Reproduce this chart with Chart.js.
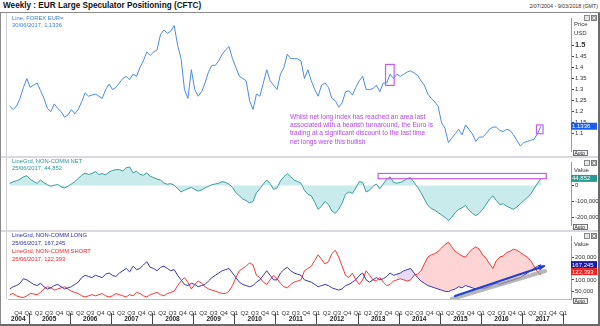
<!DOCTYPE html>
<html>
<head>
<meta charset="utf-8">
<script src="https://cdn.jsdelivr.net/npm/chart.js@4.4.0/dist/chart.umd.min.js"></script>
<style>
  body { margin: 0; background: #fff; font-family: "Liberation Sans", Arial, sans-serif; }
  #wrap { position: relative; width: 600px; height: 326px; overflow: hidden; background: #fff; }
  canvas { position: absolute; left: 0; }
  .t { position: absolute; white-space: nowrap; font-size: 5.8px; line-height: 7px; }
  .bar { position: absolute; }
</style>
</head>
<body>
<div id="wrap">
  <canvas id="c1" width="600" height="143" style="top:13px"></canvas>
  <canvas id="c2" width="600" height="72" style="top:158px"></canvas>
  <canvas id="c3" width="600" height="92" style="top:232px"></canvas>

  <div class="bar" style="left:0;top:12px;width:600px;height:1px;background:#8a8a8a"></div>
  <div class="bar" style="left:0;top:156px;width:600px;height:2px;background:#dcd7e0"></div>
  <div class="bar" style="left:0;top:230px;width:600px;height:2px;background:#dcd7e0"></div>
  <div class="bar" style="left:0;top:324px;width:600px;height:2px;background:#6a6a6a"></div>
  <div class="bar" style="left:0;top:13px;width:1px;height:311px;background:#8a8a8a"></div>
  <div class="bar" style="left:598px;top:13px;width:2px;height:311px;background:#6a6a6a"></div>
  <div class="bar" style="left:6px;top:13px;width:1px;height:286px;background:#d0d0d0"></div>

  <div class="t" style="left:3px;top:1px;font-size:8.2px;line-height:10px;font-weight:bold;color:#111">Weekly : EUR Large Speculator Positioning (CFTC)</div>
  <div class="t" style="right:2px;top:3px;font-size:5.3px;color:#333">2/07/2004 - 9/03/2018 (GMT)</div>

  <div class="t" style="left:12px;top:15px;color:#3d7fe0">Line, FOREX EUR=<br>30/06/2017, 1.1336</div>
  <div class="t" style="left:12px;top:158px;color:#2b9696;line-height:6.6px">LineGrd, NON-COMM NET<br>25/06/2017, 44,852</div>
  <div class="t" style="left:12px;top:232px;color:#2c2caa;line-height:7.8px">LineGrd, NON-COMM LONG<br>25/06/2017, 167,245</div>
  <div class="t" style="left:12px;top:248px;color:#f0282a;line-height:7.8px">LineGrd, NON-COMM SHORT<br>25/06/2017, 122,393</div>

  <div class="t" style="left:290px;top:112.5px;font-size:6.6px;line-height:8.35px;color:#b546ee">Whilst net long index has reached an area last<br>associated with a bearish turnaround, the Euro is<br>trading at a significant discount to the last time<br>net longs were this bullish</div>
</div>

<script>
// monthly readings, Jul 2004 .. Jun 2017
const startYear = 2004;
const startMonth = 7;

const price = [
  1.225, 1.21, 1.225, 1.26, 1.31, 1.35,
  1.31, 1.32, 1.33, 1.295, 1.26, 1.215, 1.20, 1.235, 1.215, 1.20, 1.175, 1.185,
  1.21, 1.19, 1.21, 1.245, 1.285, 1.27, 1.275, 1.28, 1.27, 1.26, 1.30, 1.325,
  1.30, 1.31, 1.33, 1.35, 1.36, 1.345, 1.37, 1.36, 1.40, 1.43, 1.47, 1.455,
  1.47, 1.48, 1.55, 1.57, 1.555, 1.565, 1.59, 1.50, 1.44, 1.30, 1.26, 1.39,
  1.30, 1.27, 1.29, 1.33, 1.38, 1.41, 1.41, 1.43, 1.46, 1.48, 1.495, 1.44,
  1.40, 1.36, 1.35, 1.34, 1.25, 1.21, 1.28, 1.27, 1.33, 1.39, 1.34, 1.32,
  1.30, 1.37, 1.40, 1.46, 1.44, 1.44, 1.44, 1.43, 1.35, 1.39, 1.34, 1.30,
  1.27, 1.32, 1.33, 1.31, 1.26, 1.25, 1.22, 1.24, 1.29, 1.295, 1.275, 1.31,
  1.34, 1.36, 1.30, 1.30, 1.305, 1.32, 1.29, 1.33, 1.33, 1.37, 1.35, 1.37,
  1.36, 1.37, 1.38, 1.385, 1.375, 1.365, 1.34, 1.32, 1.28, 1.26, 1.245, 1.225,
  1.15, 1.125, 1.06, 1.08, 1.10, 1.12, 1.095, 1.14, 1.12, 1.10, 1.065, 1.085,
  1.085, 1.10, 1.12, 1.13, 1.13, 1.115, 1.11, 1.12, 1.115, 1.095, 1.07, 1.045,
  1.06, 1.065, 1.07, 1.075, 1.10, 1.134
];

// thousands of contracts
const netK = [
  14, 24, 30, 40, 55, 62,
  40, 25, 14, 35, 18, 5, -5, 2, 7, -8, -15, -5,
  10, 25, 45, 65, 78, 70, 75, 88, 70, 75, 68, 85,
  95, 100, 100, 92, 112, 117, 80, 90, 70, 65, 80, 58,
  50, 40, 35, 15, 8, 12, 2, -20, -40, -30, -20, -12,
  -25, -35, -28, -15, -5, 5, 10, 15, 25, 20, 8, -12,
  -45, -65, -85, -95, -110, -100, -45, -20, 10, 35, 12, -25,
  -15, 30, 55, 75, 55, 35, 25, 15, -30, -55, -65, -105,
  -150, -130, -100, -120, -160, -175, -150, -110, -55, -40, -50, -15,
  25, 20, -40, -30, -5, 10, -20, 10, 40, 55, 20, 15,
  20, 30, 45, 50, 20, -10, -45, -85, -125, -145, -155, -170,
  -185, -200, -220, -200, -170, -150, -140, -125, -155, -175, -190, -175,
  -150, -120, -85, -65, -95, -120, -115, -130, -140, -150, -135, -115,
  -95, -75, -55, -20, 15, 45
];

const longK = [
  60, 70, 75, 85, 105, 100,
  90, 80, 75, 85, 70, 60, 65, 75, 80, 70, 60, 65,
  70, 80, 90, 110, 120, 115, 110, 120, 115, 110, 125, 130,
  120, 115, 130, 140, 150, 135, 160, 145, 150, 165, 180, 155,
  150, 140, 155, 160, 150, 140, 145, 120, 100, 80, 75, 85,
  80, 70, 75, 80, 95, 110, 120, 130, 140, 145, 150, 130,
  110, 90, 80, 75, 70, 75, 90, 100, 120, 140, 120, 100,
  100, 130, 145, 155, 140, 130, 125, 120, 100, 95, 90, 80,
  70, 75, 80, 75, 65, 60, 55, 60, 75, 80, 90, 100,
  120, 130, 100, 90, 100, 110, 100, 105, 115, 130, 120, 125,
  130, 140, 145, 150, 130, 110, 95, 85, 75, 70, 65, 60,
  55, 50, 48, 55, 60, 70, 65, 75, 70, 65, 60, 65,
  60, 65, 70, 80, 85, 80, 85, 90, 95, 100, 105, 110,
  120, 130, 140, 150, 160, 167
];

const shortK = [
  35, 40, 30, 25, 22, 30,
  40, 38, 35, 45, 60, 70, 65, 55, 60, 65, 70, 60,
  50, 45, 40, 30, 25, 30, 35, 30, 35, 40, 30, 25,
  30, 40, 35, 30, 25, 35, 30, 45, 40, 30, 25, 35,
  40, 45, 35, 30, 40, 45, 50, 75, 95, 110, 90, 60,
  80, 95, 85, 70, 60, 55, 50, 45, 40, 40, 50, 75,
  110, 140, 150, 160, 175, 165, 120, 110, 90, 80, 100, 120,
  105, 85, 70, 65, 80, 90, 95, 100, 140, 150, 160, 185,
  210, 190, 170, 180, 215, 230, 200, 160, 120, 110, 130, 100,
  80, 100, 140, 120, 100, 95, 110, 90, 75, 80, 95, 100,
  105, 100, 95, 100, 120, 125, 140, 170, 200, 210, 215, 225,
  240, 255, 265, 245, 225, 215, 205, 200, 220, 235, 245, 235,
  210, 195, 170, 150, 185, 200, 205, 220, 225, 235, 230, 220,
  210, 200, 185, 160, 135, 122
];

const priceTicks = [1.1, 1.15, 1.2, 1.25, 1.3, 1.35, 1.4, 1.45, 1.5];
const netTicks = [-200, -100, 0];
const lsTicks = [50, 100, 150, 200];
const yearLabels = ['2004', '2005', '2006', '2007', '2008', '2009', '2010', '2011', '2012', '2013', '2014', '2015', '2016', '2017'];

// the long/short gap is only shaded from late 2013 onwards
const shadeFrom = 113;

const xMin = 2004.5, xMax = 2018.19;
const quarterTicks = [];
for (let t = 2004.75; t <= 2018.001; t += 0.25) quarterTicks.push(+t.toFixed(2));

const monthX = price.map((_, i) => startYear + (startMonth - 1 + i) / 12 + 1 / 24);
const pts = arr => arr.map((v, i) => ({ x: monthX[i], y: v }));

Chart.defaults.font.family = '"Liberation Sans", Arial, sans-serif';
Chart.defaults.font.size = 6;
Chart.defaults.color = '#333';

const violet = '#c35cf2';

// small helpers for the right-hand column
function rightText(ctx, y, text) {
  ctx.fillStyle = '#333';
  ctx.font = '6px "Liberation Sans", Arial';
  ctx.textBaseline = 'middle';
  ctx.textAlign = 'left';
  ctx.fillText(text, 574, y);
}
function valueBox(ctx, y, text, bg) {
  ctx.fillStyle = bg;
  ctx.fillRect(571, y - 3.5, 26, 7);
  ctx.fillStyle = '#fff';
  ctx.font = '6px "Liberation Sans", Arial';
  ctx.textBaseline = 'middle';
  ctx.textAlign = 'left';
  ctx.fillText(text, 572, y + 0.3);
}
function buttons(ctx, y) {
  ctx.fillStyle = '#e4e4e4';
  ctx.strokeStyle = '#777';
  ctx.lineWidth = 0.8;
  ctx.fillRect(584, y, 6, 6); ctx.strokeRect(584.5, y + 0.5, 5, 5);
  ctx.fillStyle = '#9a9a9a';
  ctx.fillRect(591, y, 6, 6); ctx.strokeRect(591.5, y + 0.5, 5, 5);
  ctx.strokeStyle = '#fff';
  ctx.beginPath();
  ctx.moveTo(592.5, y + 1.5); ctx.lineTo(595.5, y + 4.5);
  ctx.moveTo(595.5, y + 1.5); ctx.lineTo(592.5, y + 4.5);
  ctx.stroke();
}
function autoBtn(ctx, y) {
  ctx.fillStyle = '#f2f2f2';
  ctx.strokeStyle = '#555';
  ctx.lineWidth = 0.8;
  ctx.fillRect(573, y, 15, 6);
  ctx.strokeRect(573.5, y + 0.5, 14, 5);
  ctx.fillStyle = '#222';
  ctx.font = '5px "Liberation Sans", Arial';
  ctx.textBaseline = 'middle';
  ctx.textAlign = 'left';
  ctx.fillText('Auto', 574.5, y + 3.3);
}
function boxAt(ctx, sx, sy, x0, x1, y0, y1) {
  const l = sx.getPixelForValue(x0), r = sx.getPixelForValue(x1);
  const t = sy.getPixelForValue(y0), b = sy.getPixelForValue(y1);
  ctx.strokeStyle = violet;
  ctx.lineWidth = 1.2;
  ctx.strokeRect(l, t, r - l, b - t);
}

function yAxis(min, max, ticks, labelFn, fontFn) {
  return {
    position: 'right', min, max,
    afterFit: a => { a.width = 29; },
    afterBuildTicks: a => { a.ticks = ticks.map(v => ({ value: v })); },
    grid: { drawOnChartArea: false, tickLength: 3, color: '#444' },
    border: { color: '#9a9a9a' },
    ticks: { padding: 1, color: '#333', callback: labelFn, font: fontFn || { size: 6 } }
  };
}

const baseOpts = {
  animation: false,
  responsive: false,
  layout: { padding: { left: 8, right: 0, top: 0, bottom: 0 } },
  plugins: { legend: { display: false }, tooltip: { enabled: false } }
};

// price panel
new Chart(document.getElementById('c1'), {
  type: 'line',
  data: { datasets: [{ data: pts(price), borderColor: '#4a8be6', borderWidth: 1, pointRadius: 0, tension: 0 }] },
  options: {
    ...baseOpts,
    scales: {
      x: { type: 'linear', min: xMin, max: xMax, display: false },
      y: yAxis(1.02, 1.622, priceTicks, v => String(v),
        c => (c.tick && c.tick.value === 1.5) ? { size: 7.5, weight: 'bold' } : { size: 6 })
    }
  },
  plugins: [{
    id: 'deco1',
    afterDraw(chart) {
      const { ctx, scales: { x, y } } = chart;
      ctx.save();
      boxAt(ctx, x, y, 2013.68, 2013.89, 1.414, 1.319);
      boxAt(ctx, x, y, 2017.35, 2017.51, 1.140, 1.100);
      rightText(ctx, 11.5, 'Price');
      rightText(ctx, 20.3, 'USD');
      valueBox(ctx, y.getPixelForValue(price[price.length - 1]), '1.1336', '#1a5ee8');
      buttons(ctx, 2);
      autoBtn(ctx, 137);
      ctx.restore();
    }
  }]
});

// net positioning panel
new Chart(document.getElementById('c2'), {
  type: 'line',
  data: {
    datasets: [{
      data: pts(netK), borderColor: '#3a9c9c', borderWidth: 1, pointRadius: 0, tension: 0,
      fill: { target: { value: 0 }, above: 'rgba(120,206,206,0.4)', below: 'rgba(120,206,206,0.4)' }
    }]
  },
  options: {
    ...baseOpts,
    scales: {
      x: { type: 'linear', min: xMin, max: xMax, display: false },
      y: yAxis(-251, 144.5, netTicks, v => (v * 1000).toLocaleString('en-US'))
    }
  },
  plugins: [{
    id: 'deco2',
    afterDraw(chart) {
      const { ctx, scales: { x, y } } = chart;
      ctx.save();
      boxAt(ctx, x, y, 2013.5, 2017.59, 76, 43);
      rightText(ctx, 12, 'Value');
      valueBox(ctx, y.getPixelForValue(netK[netK.length - 1]), '44,852', '#2a9a92');
      buttons(ctx, 2);
      autoBtn(ctx, 66);
      ctx.restore();
    }
  }]
});

// long / short panel with the time axis
new Chart(document.getElementById('c3'), {
  type: 'line',
  data: {
    datasets: [
      { data: pts(longK), borderColor: '#3636b8', borderWidth: 1, pointRadius: 0, tension: 0, fill: false },
      { data: pts(shortK), borderColor: '#ff3434', borderWidth: 1, pointRadius: 0, tension: 0, fill: false },
      // shading between the two lines for the recent stretch
      { data: pts(longK).slice(shadeFrom), borderWidth: 0, borderColor: 'rgba(0,0,0,0)', pointRadius: 0, tension: 0, fill: false },
      {
        data: pts(shortK).slice(shadeFrom), borderWidth: 0, borderColor: 'rgba(0,0,0,0)', pointRadius: 0, tension: 0,
        fill: { target: 2, above: 'rgba(255,120,120,0.32)', below: 'rgba(175,140,230,0.32)' }
      }
    ]
  },
  options: {
    ...baseOpts,
    scales: {
      x: {
        type: 'linear', min: xMin, max: xMax,
        afterFit: a => { a.height = 25; },
        afterBuildTicks: a => { a.ticks = quarterTicks.map(v => ({ value: v })); },
        grid: { display: false },
        border: { color: '#c0c0c0' },
        ticks: {
          autoSkip: false, maxRotation: 0, minRotation: 0, padding: 3, color: '#333', font: { size: 6 },
          callback: v => 'Q' + (Math.round((v - Math.floor(v)) * 4) + 1)
        }
      },
      y: yAxis(16, 290, lsTicks, v => (v * 1000).toLocaleString('en-US'))
    }
  },
  plugins: [{
    id: 'deco3',
    afterDraw(chart) {
      const { ctx, chartArea: a, scales: { x, y } } = chart;
      ctx.save();
      // trend lines
      ctx.save();
      ctx.beginPath();
      ctx.rect(a.left, a.top, a.right - a.left, a.bottom - a.top);
      ctx.clip();
      ctx.lineCap = 'round';
      ctx.strokeStyle = 'rgba(160,160,160,0.75)';
      ctx.lineWidth = 4;
      ctx.beginPath();
      ctx.moveTo(x.getPixelForValue(2015.29), y.getPixelForValue(16));
      ctx.lineTo(x.getPixelForValue(2017.56), y.getPixelForValue(139));
      ctx.stroke();
      const x0 = x.getPixelForValue(2015.37), y0 = y.getPixelForValue(29);
      const x1 = x.getPixelForValue(2017.53), y1 = y.getPixelForValue(160);
      ctx.strokeStyle = '#2040d8';
      ctx.fillStyle = '#2040d8';
      ctx.lineWidth = 2.2;
      ctx.beginPath(); ctx.moveTo(x0, y0); ctx.lineTo(x1, y1); ctx.stroke();
      const ang = Math.atan2(y1 - y0, x1 - x0);
      ctx.beginPath();
      ctx.moveTo(x1 + 2 * Math.cos(ang), y1 + 2 * Math.sin(ang));
      ctx.lineTo(x1 - 6 * Math.cos(ang - 0.5), y1 - 6 * Math.sin(ang - 0.5));
      ctx.lineTo(x1 - 6 * Math.cos(ang + 0.5), y1 - 6 * Math.sin(ang + 0.5));
      ctx.closePath(); ctx.fill();
      ctx.restore();

      // year row under the quarter labels
      ctx.strokeStyle = '#444';
      ctx.lineWidth = 1;
      ctx.fillStyle = '#222';
      ctx.font = 'bold 6.5px "Liberation Sans", Arial';
      ctx.textAlign = 'center';
      ctx.textBaseline = 'middle';
      yearLabels.forEach(lbl => {
        const yr = +lbl;
        const s = Math.max(yr, xMin), e = Math.min(yr + 1, xMax);
        ctx.fillText(lbl, (x.getPixelForValue(s) + x.getPixelForValue(e)) / 2, 87.5);
        const sep = Math.round(x.getPixelForValue(yr + 1)) + 0.5;
        ctx.beginPath(); ctx.moveTo(sep, 81); ctx.lineTo(sep, 92); ctx.stroke();
      });

      rightText(ctx, 12, 'Value');
      const ly = y.getPixelForValue(longK[longK.length - 1]);
      valueBox(ctx, ly, '167,245', '#1a1aa8');
      valueBox(ctx, Math.max(ly + 7, y.getPixelForValue(shortK[shortK.length - 1]) - 5.5), '122,393', '#ff1a1a');
      buttons(ctx, 1);
      autoBtn(ctx, 66);
      ctx.restore();
    }
  }]
});
</script>
</body>
</html>
